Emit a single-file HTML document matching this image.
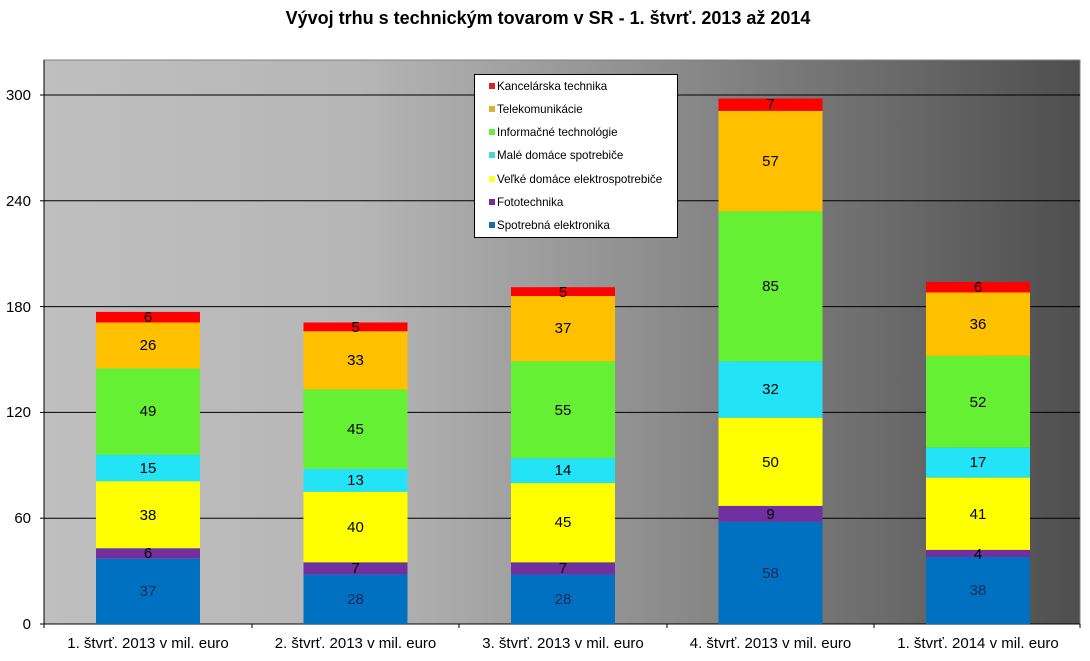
<!DOCTYPE html>
<html><head><meta charset="utf-8"><style>
html,body{margin:0;padding:0;background:#fff;}
svg{display:block;font-family:"Liberation Sans",Arial,sans-serif;}
</style></head><body>
<svg width="1090" height="661" viewBox="0 0 1090 661" xmlns="http://www.w3.org/2000/svg">
<defs>
<linearGradient id="bg" x1="0" y1="0" x2="1" y2="0">
<stop offset="0" stop-color="#bfbfbf"/>
<stop offset="0.3" stop-color="#b6b6b6"/>
<stop offset="0.6" stop-color="#8c8c8c"/>
<stop offset="1" stop-color="#4e4e4e"/>
</linearGradient>
</defs>
<text x="548" y="24" text-anchor="middle" font-size="18" font-weight="bold">Vývoj trhu s technickým tovarom v SR - 1. štvrť. 2013 až 2014</text>
<rect x="44" y="60" width="1036" height="564" fill="url(#bg)" stroke="#808080" stroke-width="1"/>
<g stroke="#000" stroke-width="1">
<line x1="44" y1="95" x2="1080" y2="95"/>
<line x1="44" y1="200.8" x2="1080" y2="200.8"/>
<line x1="44" y1="306.6" x2="1080" y2="306.6"/>
<line x1="44" y1="412.4" x2="1080" y2="412.4"/>
<line x1="44" y1="518.2" x2="1080" y2="518.2"/>
<line x1="44" y1="60" x2="44" y2="628"/>
<line x1="40" y1="624" x2="1080" y2="624"/>
<line x1="40" y1="95" x2="44" y2="95"/><line x1="40" y1="200.8" x2="44" y2="200.8"/><line x1="40" y1="306.6" x2="44" y2="306.6"/><line x1="40" y1="412.4" x2="44" y2="412.4"/><line x1="40" y1="518.2" x2="44" y2="518.2"/>
<line x1="252" y1="624" x2="252" y2="628"/><line x1="459" y1="624" x2="459" y2="628"/><line x1="667" y1="624" x2="667" y2="628"/><line x1="874" y1="624" x2="874" y2="628"/><line x1="1080" y1="624" x2="1080" y2="628"/>
</g>
<g font-size="15" text-anchor="end">
<text x="31" y="100">300</text><text x="31" y="206">240</text><text x="31" y="312">180</text><text x="31" y="417">120</text><text x="31" y="523">60</text><text x="31" y="629">0</text>
</g>
<g font-size="15" text-anchor="middle">
<text x="148" y="648">1. štvrť. 2013 v mil. euro</text>
<text x="355.5" y="648">2. štvrť. 2013 v mil. euro</text>
<text x="563" y="648">3. štvrť. 2013 v mil. euro</text>
<text x="770.5" y="648">4. štvrť. 2013 v mil. euro</text>
<text x="978" y="648">1. štvrť. 2014 v mil. euro</text>
</g>
<g>
<rect x="96" y="558.8" width="104" height="65.2" fill="#0070c0"/>
<rect x="96" y="548.2" width="104" height="10.6" fill="#7030a0"/>
<rect x="96" y="481.2" width="104" height="67" fill="#ffff00"/>
<rect x="96" y="454.7" width="104" height="26.5" fill="#22e4f6"/>
<rect x="96" y="368.3" width="104" height="86.4" fill="#66f033"/>
<rect x="96" y="322.5" width="104" height="45.8" fill="#ffc000"/>
<rect x="96" y="311.9" width="104" height="10.6" fill="#ff0000"/>
</g>
<g>
<rect x="303.5" y="574.6" width="104" height="49.4" fill="#0070c0"/>
<rect x="303.5" y="562.3" width="104" height="12.3" fill="#7030a0"/>
<rect x="303.5" y="491.8" width="104" height="70.5" fill="#ffff00"/>
<rect x="303.5" y="468.8" width="104" height="23" fill="#22e4f6"/>
<rect x="303.5" y="389.5" width="104" height="79.3" fill="#66f033"/>
<rect x="303.5" y="331.3" width="104" height="58.2" fill="#ffc000"/>
<rect x="303.5" y="322.5" width="104" height="8.8" fill="#ff0000"/>
</g>
<g>
<rect x="511" y="574.6" width="104" height="49.4" fill="#0070c0"/>
<rect x="511" y="562.3" width="104" height="12.3" fill="#7030a0"/>
<rect x="511" y="483.1" width="104" height="79.2" fill="#ffff00"/>
<rect x="511" y="458.2" width="104" height="24.9" fill="#22e4f6"/>
<rect x="511" y="361.3" width="104" height="96.9" fill="#66f033"/>
<rect x="511" y="296" width="104" height="65.3" fill="#ffc000"/>
<rect x="511" y="287.2" width="104" height="8.8" fill="#ff0000"/>
</g>
<g>
<rect x="718.5" y="521.7" width="104" height="102.3" fill="#0070c0"/>
<rect x="718.5" y="505.9" width="104" height="15.8" fill="#7030a0"/>
<rect x="718.5" y="417.7" width="104" height="88.2" fill="#ffff00"/>
<rect x="718.5" y="361.3" width="104" height="56.4" fill="#22e4f6"/>
<rect x="718.5" y="211.4" width="104" height="149.9" fill="#66f033"/>
<rect x="718.5" y="110.9" width="104" height="100.5" fill="#ffc000"/>
<rect x="718.5" y="98.5" width="104" height="12.4" fill="#ff0000"/>
</g>
<g>
<rect x="926" y="557" width="104" height="67" fill="#0070c0"/>
<rect x="926" y="549.9" width="104" height="7.1" fill="#7030a0"/>
<rect x="926" y="477.6" width="104" height="72.3" fill="#ffff00"/>
<rect x="926" y="447.7" width="104" height="29.9" fill="#22e4f6"/>
<rect x="926" y="355.9" width="104" height="91.8" fill="#66f033"/>
<rect x="926" y="292.5" width="104" height="63.4" fill="#ffc000"/>
<rect x="926" y="281.9" width="104" height="10.6" fill="#ff0000"/>
</g>
<g font-size="15" text-anchor="middle">
<text x="148" y="596" fill="#1a2a5a">37</text><text x="148" y="558">6</text><text x="148" y="520">38</text><text x="148" y="473">15</text><text x="148" y="416">49</text><text x="148" y="350">26</text><text x="148" y="322">6</text>
<text x="355.5" y="604" fill="#1a2a5a">28</text><text x="355.5" y="573">7</text><text x="355.5" y="532">40</text><text x="355.5" y="485">13</text><text x="355.5" y="434">45</text><text x="355.5" y="365">33</text><text x="355.5" y="332">5</text>
<text x="563" y="604" fill="#1a2a5a">28</text><text x="563" y="573">7</text><text x="563" y="527">45</text><text x="563" y="475">14</text><text x="563" y="415">55</text><text x="563" y="333">37</text><text x="563" y="297">5</text>
<text x="770.5" y="578" fill="#1a2a5a">58</text><text x="770.5" y="519">9</text><text x="770.5" y="467">50</text><text x="770.5" y="394">32</text><text x="770.5" y="291">85</text><text x="770.5" y="166">57</text><text x="770.5" y="109">7</text>
<text x="978" y="595" fill="#1a2a5a">38</text><text x="978" y="559">4</text><text x="978" y="519">41</text><text x="978" y="467">17</text><text x="978" y="407">52</text><text x="978" y="329">36</text><text x="978" y="292">6</text>
</g>
<rect x="474.5" y="74.5" width="203" height="163" fill="#fff" stroke="#000" stroke-width="1"/>
<g font-size="11.6">
<rect x="489" y="83" width="6" height="6" fill="#e0202a"/><text x="497" y="90">Kancelárska technika</text>
<rect x="489" y="106" width="6" height="6" fill="#e0b030"/><text x="497" y="113">Telekomunikácie</text>
<rect x="489" y="129" width="6" height="6" fill="#66f033"/><text x="497" y="136">Informačné technológie</text>
<rect x="489" y="152" width="6" height="6" fill="#40d8e0"/><text x="497" y="159">Malé domáce spotrebiče</text>
<rect x="489" y="176" width="6" height="6" fill="#ffff30"/><text x="497" y="183">Veľké domáce elektrospotrebiče</text>
<rect x="489" y="199" width="6" height="6" fill="#7030a0"/><text x="497" y="206">Fototechnika</text>
<rect x="489" y="222" width="6" height="6" fill="#1070b0"/><text x="497" y="229">Spotrebná elektronika</text>
</g>
</svg>
</body></html>
